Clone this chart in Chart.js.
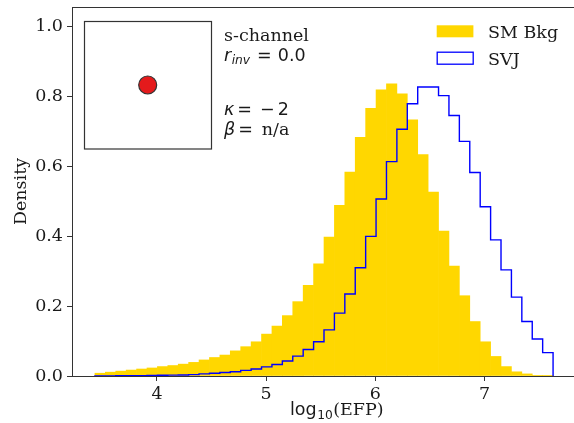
<!DOCTYPE html>
<html>
<head>
<meta charset="utf-8">
<script src="https://cdn.jsdelivr.net/npm/chart.js@4.4.1/dist/chart.umd.min.js"></script>
<style>
  html, body { margin: 0; padding: 0; background: #fff; overflow: hidden; }
  #wrap { width: 580px; height: 423px; }
</style>
</head>
<body>
<div id="wrap"><canvas id="chart" width="580" height="423"></canvas></div>
<script>
// histogram binning (shared by both samples)
const binLo = 3.432;
const binHi = 7.628;
const nBins = 44;

// normalised densities, one per bin
const bkgDensity = [
  0.008, 0.011, 0.014, 0.017, 0.020, 0.023, 0.027, 0.030, 0.034, 0.039,
  0.046, 0.053, 0.060, 0.072, 0.084, 0.098, 0.120, 0.143, 0.173, 0.213,
  0.260, 0.321, 0.398, 0.489, 0.584, 0.684, 0.767, 0.820, 0.837, 0.808,
  0.734, 0.634, 0.527, 0.415, 0.315, 0.230, 0.156, 0.098, 0.056, 0.027,
  0.012, 0.006, 0.002, 0.001
];
const svjDensity = [
  0.0005, 0.0005, 0.0008, 0.001, 0.0012, 0.0015, 0.002, 0.0025, 0.003, 0.004,
  0.006, 0.008, 0.010, 0.012, 0.016, 0.020, 0.026, 0.033, 0.043, 0.057,
  0.076, 0.098, 0.132, 0.180, 0.235, 0.310, 0.400, 0.507, 0.614, 0.707,
  0.780, 0.828, 0.828, 0.803, 0.746, 0.672, 0.583, 0.485, 0.390, 0.304,
  0.226, 0.156, 0.106, 0.067
];

const seriesLabels = ['SM Bkg', 'SVJ'];
const xTicks = [4, 5, 6, 7];
const yTicks = [0, 0.2, 0.4, 0.6, 0.8, 1.0];

const SERIF = '"DejaVu Serif", serif';
const SANS = '"DejaVu Sans", sans-serif';
const FS = 17.5;
const INK = '#1a1a1a';
const SPINE = '#333';

const binWidth = (binHi - binLo) / nBins;
const binEdges = [];
for (let i = 0; i <= nBins; i++) binEdges.push(binLo + i * binWidth);

// bars sit on bin centres, step line walks the bin edges
const bkgBars = bkgDensity.map((d, i) => ({ x: (binEdges[i] + binEdges[i + 1]) / 2, y: d }));
const svjStep = [{ x: binEdges[0], y: 0 }];
svjDensity.forEach((d, i) => svjStep.push({ x: binEdges[i], y: d }));
svjStep.push({ x: binEdges[nBins], y: 0 });

// draws a run of text pieces left to right (mathtext-ish)
function drawRuns(ctx, x, y, runs) {
  runs.forEach(r => {
    ctx.font = r.font;
    ctx.fillText(r.text, x + (r.gap || 0), y + (r.dy || 0));
    x += (r.gap || 0) + ctx.measureText(r.text).width;
  });
}

const decorations = {
  id: 'decorations',
  afterDraw(chart) {
    const ctx = chart.ctx;
    const area = chart.chartArea;
    ctx.save();

    // top spine
    ctx.strokeStyle = SPINE;
    ctx.lineWidth = 1;
    ctx.beginPath();
    ctx.moveTo(area.left, Math.round(area.top) + 0.5);
    ctx.lineTo(area.right, Math.round(area.top) + 0.5);
    ctx.stroke();

    // inset box with the red dot
    ctx.lineWidth = 1.2;
    ctx.strokeRect(84.5, 21.5, 127, 127.5);
    ctx.beginPath();
    ctx.arc(147.7, 85, 9, 0, Math.PI * 2);
    ctx.fillStyle = '#e41a1c';
    ctx.fill();
    ctx.strokeStyle = '#333';
    ctx.stroke();

    // annotation text
    ctx.fillStyle = INK;
    ctx.textAlign = 'left';
    ctx.textBaseline = 'alphabetic';
    ctx.font = FS + 'px ' + SERIF;
    ctx.fillText('s-channel', 224, 40.5);
    drawRuns(ctx, 224, 60.5, [
      { text: 'r', font: 'italic ' + FS + 'px ' + SANS },
      { text: 'inv', font: 'italic ' + (FS * 0.7) + 'px ' + SANS, dy: 3.5, gap: 0.5 },
      { text: '=', font: FS + 'px ' + SANS, gap: 7 },
      { text: '0.0', font: FS + 'px ' + SANS, gap: 6 }
    ]);
    drawRuns(ctx, 224, 115, [
      { text: 'κ', font: 'italic ' + FS + 'px ' + SANS },
      { text: '=', font: FS + 'px ' + SANS, gap: 3 },
      { text: '−', font: FS + 'px ' + SANS, gap: 8 },
      { text: '2', font: FS + 'px ' + SANS, gap: 3 }
    ]);
    drawRuns(ctx, 224, 134.5, [
      { text: 'β', font: 'italic ' + FS + 'px ' + SANS },
      { text: '=', font: FS + 'px ' + SANS, gap: 3 },
      { text: 'n/a', font: FS + 'px ' + SERIF, gap: 9 }
    ]);

    // legend
    const bars = chart.data.datasets.find(d => d.type === 'bar');
    const step = chart.data.datasets.find(d => d.type === 'line');
    ctx.fillStyle = bars.backgroundColor;
    ctx.fillRect(436.7, 25.3, 36.7, 12);
    ctx.strokeStyle = step.borderColor;
    ctx.lineWidth = 1.3;
    ctx.strokeRect(437.2, 52.2, 36, 12);
    ctx.fillStyle = INK;
    ctx.font = FS + 'px ' + SERIF;
    ctx.fillText(bars.label, 488, 38.3);
    ctx.fillText(step.label, 488, 65);

    // axis titles
    drawRuns(ctx, 290, 415, [
      { text: 'log', font: FS + 'px ' + SANS },
      { text: '10', font: (FS * 0.7) + 'px ' + SANS, dy: 4, gap: 0.5 },
      { text: '(EFP)', font: FS + 'px ' + SERIF, gap: 0.5 }
    ]);
    ctx.save();
    ctx.translate(21.7, (area.top + area.bottom) / 2);
    ctx.rotate(-Math.PI / 2);
    ctx.textAlign = 'center';
    ctx.textBaseline = 'middle';
    ctx.font = FS + 'px ' + SERIF;
    ctx.fillText('Density', 0, 0);
    ctx.restore();

    ctx.restore();
  }
};

const noPad = s => { s.paddingTop = 0; s.paddingBottom = 0; s.paddingLeft = 0; s.paddingRight = 0; };

new Chart(document.getElementById('chart'), {
  data: {
    datasets: [
      {
        type: 'line',
        label: seriesLabels[1],
        data: svjStep,
        stepped: 'before',
        borderColor: '#0000ff',
        borderWidth: 1.4,
        pointRadius: 0,
        fill: false,
        order: 0
      },
      {
        type: 'bar',
        label: seriesLabels[0],
        data: bkgBars,
        backgroundColor: '#ffd700',
        borderWidth: 0,
        barPercentage: 1,
        categoryPercentage: 1,
        order: 1
      }
    ]
  },
  options: {
    responsive: false,
    devicePixelRatio: 1,
    animation: false,
    layout: { padding: { top: 7, right: 4, left: 0, bottom: 0 } },
    plugins: { legend: { display: false }, tooltip: { enabled: false } },
    scales: {
      x: {
        type: 'linear',
        offset: false,
        min: 3.222,
        max: 7.838,
        afterBuildTicks: s => { s.ticks = xTicks.map(v => ({ value: v })); },
        afterFit: s => { s.height = 47; noPad(s); },
        ticks: { font: { family: SERIF, size: FS }, color: INK, padding: 3, callback: v => String(v) },
        grid: { offset: false, drawOnChartArea: false, tickLength: 5, tickColor: SPINE },
        border: { color: SPINE, width: 1 }
      },
      y: {
        type: 'linear',
        min: 0,
        max: 1.057,
        afterBuildTicks: s => { s.ticks = yTicks.map(v => ({ value: v })); },
        afterFit: s => { s.width = 72; noPad(s); },
        ticks: { font: { family: SERIF, size: FS }, color: INK, padding: 4, callback: v => v.toFixed(1) },
        grid: { drawOnChartArea: false, tickLength: 5, tickColor: SPINE },
        border: { color: SPINE, width: 1 }
      }
    }
  },
  plugins: [decorations]
});
</script>
</body>
</html>
